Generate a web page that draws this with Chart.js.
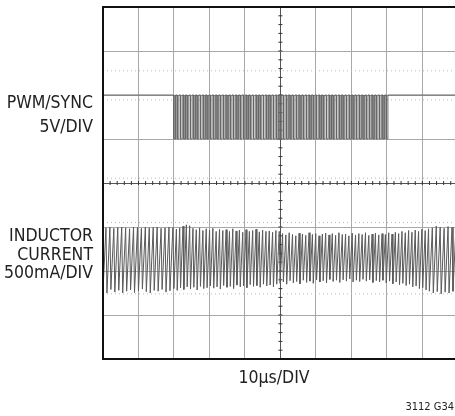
<!DOCTYPE html>
<html>
<head>
<meta charset="utf-8">
<style>
  html, body { margin: 0; padding: 0; background: #fff; }
  #scope { display: block; }
</style>
</head>
<body>
<canvas id="scope" width="455" height="416"></canvas>
<script src="https://cdn.jsdelivr.net/npm/chart.js@4.4.1/dist/chart.umd.min.js"></script>
<script>
// Eixo horizontal em µs (10µs/DIV), vertical em divisões (8 DIV)
const X_MAX = 99.2; // a borda direita da tela está cortada na figura
const xGridLines = [0, 10, 20, 30, 40, 50, 60, 70, 80, 90];
const yGridLines = [-4, -3, -2, -1, 0, 1, 2, 3, 4];

// PWM/SYNC (divisões)
const pwmHigh = 2.0;
const pwmLow = 1.0;
const pwmBurst = [20, 80]; // µs com pulsos de sync

// período de chaveamento por trecho (µs)
const periodStart = [0, 20, 92];
const periodLength = [1.11, 0.935, 1.11];

// corrente no indutor: pico e vale de cada ciclo (divisões)
const currentPeaks = [
    -1.02, -1.0, -1.03, -1.01, -1.0, -1.02, -1.04, -1.0, -1.01, -1.03, -1.0, -1.02, -1.01, -1.0, -1.03, -1.02, -1.0, -1.01,
    -1.05, -1.02, -0.98, -0.95, -0.97, -1.03, -1.06, -1.02, -1.08, -1.04, -1.07, -1.03, -1.1, -1.05, -1.08, -1.06,
    -1.1, -1.04, -1.09, -1.07, -1.12, -1.06, -1.1, -1.08, -1.05, -1.11, -1.07, -1.1, -1.09, -1.12, -1.08, -1.1,
    -1.15, -1.18, -1.13, -1.17, -1.2, -1.14, -1.16, -1.19, -1.13, -1.17, -1.15, -1.2, -1.16, -1.14, -1.18, -1.15,
    -1.19, -1.13, -1.17, -1.16, -1.2, -1.14, -1.18, -1.15, -1.17, -1.13, -1.19, -1.16, -1.14, -1.18, -1.15, -1.17,
    -1.13, -1.16, -1.12, -1.15, -1.1, -1.13, -1.08, -1.12, -1.07, -1.1, -1.05, -1.08, -1.04,
    -1.02, -0.98, -1.0, -1.03, -0.99, -1.01, -1.0, -1.02
];
const currentValleys = [
    -2.45, -2.5, -2.42, -2.48, -2.44, -2.5, -2.46, -2.43, -2.49, -2.45, -2.41, -2.47, -2.5, -2.44, -2.46, -2.42, -2.48, -2.45,
    -2.4, -2.44, -2.38, -2.42, -2.36, -2.41, -2.37, -2.43, -2.35, -2.4, -2.38, -2.34, -2.39, -2.36, -2.41, -2.33,
    -2.37, -2.35, -2.4, -2.32, -2.36, -2.34, -2.38, -2.31, -2.35, -2.33, -2.37, -2.3, -2.34, -2.32, -2.36, -2.3,
    -2.28, -2.25, -2.3, -2.22, -2.27, -2.24, -2.29, -2.21, -2.26, -2.23, -2.28, -2.2, -2.25, -2.22, -2.27, -2.19,
    -2.24, -2.21, -2.26, -2.2, -2.23, -2.18, -2.25, -2.21, -2.24, -2.19, -2.23, -2.2, -2.26, -2.22, -2.25, -2.21,
    -2.27, -2.23, -2.29, -2.25, -2.31, -2.28, -2.33, -2.3, -2.36, -2.34, -2.4, -2.38, -2.43,
    -2.46, -2.5, -2.47, -2.52, -2.48, -2.5, -2.46, -2.49
];

// linhas pontilhadas fracas da tela (divisões)
const faintLines = [2.55, 1.89, 0.11, -0.9, -2.52];

const channelLabels = [["PWM/SYNC", "5V/DIV"], ["INDUCTOR", "CURRENT", "500mA/DIV"]];
const timeLabel = "10µs/DIV";
const figureId = "3112 G34";

const FONT = '"Liberation Sans Narrow", "DejaVu Sans Condensed", Roboto, sans-serif';

function periodAt(t) {
    let p = periodLength[0];
    for (let i = 0; i < periodStart.length; i++) {
        if (t >= periodStart[i] - 0.05) p = periodLength[i];
    }
    return p;
}

// rampa de subida (75% do ciclo) e queda rápida
function buildCurrent() {
    const pts = [];
    let t = 0;
    for (let i = 0; i < currentPeaks.length; i++) {
        const p = periodAt(t);
        pts.push({x: t, y: currentValleys[i]});
        pts.push({x: t + 0.75 * p, y: currentPeaks[i]});
        t += p;
    }
    pts.push({x: t, y: currentValleys[currentValleys.length - 1]});
    return pts;
}

function buildPwm() {
    const pts = [{x: 0, y: pwmHigh}];
    let t = 0;
    while (t < X_MAX) {
        const p = periodAt(t);
        if (t >= pwmBurst[0] - 0.05 && t < pwmBurst[1]) {
            pts.push({x: t, y: pwmHigh}, {x: t, y: pwmLow}, {x: t + p / 2, y: pwmLow}, {x: t + p / 2, y: pwmHigh});
        }
        t += p;
    }
    pts.push({x: X_MAX, y: pwmHigh});
    return pts;
}

// marcas menores nos eixos centrais (5 por divisão)
function centerTicks() {
    const onX = [], onY = [];
    for (let i = 0; i <= 50; i++) onX.push({x: i * 2, y: 0});
    for (let i = -20; i <= 20; i++) onY.push({x: 50, y: i / 5});
    return {onX, onY};
}

const framePlugin = {
    id: 'frame',
    afterDraw(chart) {
        const ctx = chart.ctx;
        const a = chart.chartArea;
        const ys = chart.scales.y;
        ctx.save();
        ctx.strokeStyle = '#111';
        ctx.lineWidth = 2;
        ctx.beginPath();
        ctx.moveTo(chart.width, a.top);
        ctx.lineTo(a.left, a.top);
        ctx.lineTo(a.left, a.bottom);
        ctx.lineTo(chart.width, a.bottom);
        ctx.stroke();

        ctx.fillStyle = '#222';
        ctx.textAlign = 'right';
        ctx.textBaseline = 'middle';
        ctx.font = '17.5px ' + FONT;
        // PWM/SYNC
        ctx.fillText(channelLabels[0][0], a.left - 10, ys.getPixelForValue(1.8));
        ctx.fillText(channelLabels[0][1], a.left - 10, ys.getPixelForValue(1.27));
        // INDUCTOR CURRENT
        const yInd = [-1.22, -1.64, -2.06];
        channelLabels[1].forEach((s, i) => ctx.fillText(s, a.left - 10, ys.getPixelForValue(yInd[i])));

        ctx.textAlign = 'center';
        ctx.fillText(timeLabel, 274, a.bottom + 19);
        ctx.textAlign = 'right';
        ctx.font = '11px ' + FONT;
        ctx.fillText(figureId, chart.width - 1, a.bottom + 48);
        ctx.restore();
    }
};

function initChart() {
    const ctx = document.getElementById('scope').getContext('2d');
    const ticks = centerTicks();
    const datasets = [
        {data: buildPwm(), borderColor: '#666', borderWidth: 1},
        {data: buildCurrent(), borderColor: '#5a5a5a', borderWidth: 1},
        {data: ticks.onX, showLine: false, pointStyle: 'line', pointRotation: 90, pointRadius: 2,
         borderColor: '#333', borderWidth: 1},
        {data: ticks.onY, showLine: false, pointStyle: 'line', pointRadius: 2,
         borderColor: '#333', borderWidth: 1}
    ];
    faintLines.forEach(v => {
        datasets.push({data: [{x: 0, y: v}, {x: X_MAX, y: v}], borderColor: '#b8b8b8',
            borderWidth: 1, borderDash: [1, 3]});
    });

    new Chart(ctx, {
        type: 'line',
        data: {datasets: datasets},
        options: {
            responsive: false,
            animation: false,
            events: [],
            layout: {autoPadding: false, padding: {left: 103, top: 7, right: 0, bottom: 57}},
            elements: {point: {radius: 0, hoverRadius: 0}, line: {tension: 0}},
            plugins: {legend: {display: false}, tooltip: {enabled: false}},
            scales: {
                x: {
                    type: 'linear', min: 0, max: X_MAX,
                    ticks: {display: false},
                    border: {display: false},
                    afterBuildTicks: s => { s.ticks = xGridLines.map(v => ({value: v})); },
                    grid: {drawTicks: false, color: c => c.tick.value === 50 ? '#555' : '#a8a8a8'}
                },
                y: {
                    type: 'linear', min: -4, max: 4,
                    ticks: {display: false},
                    border: {display: false},
                    afterBuildTicks: s => { s.ticks = yGridLines.map(v => ({value: v})); },
                    grid: {drawTicks: false, color: c => c.tick.value === 0 ? '#555' : '#a8a8a8'}
                }
            }
        },
        plugins: [framePlugin]
    });
}

window.onload = () => {
    initChart();
};
</script>
</body>
</html>
